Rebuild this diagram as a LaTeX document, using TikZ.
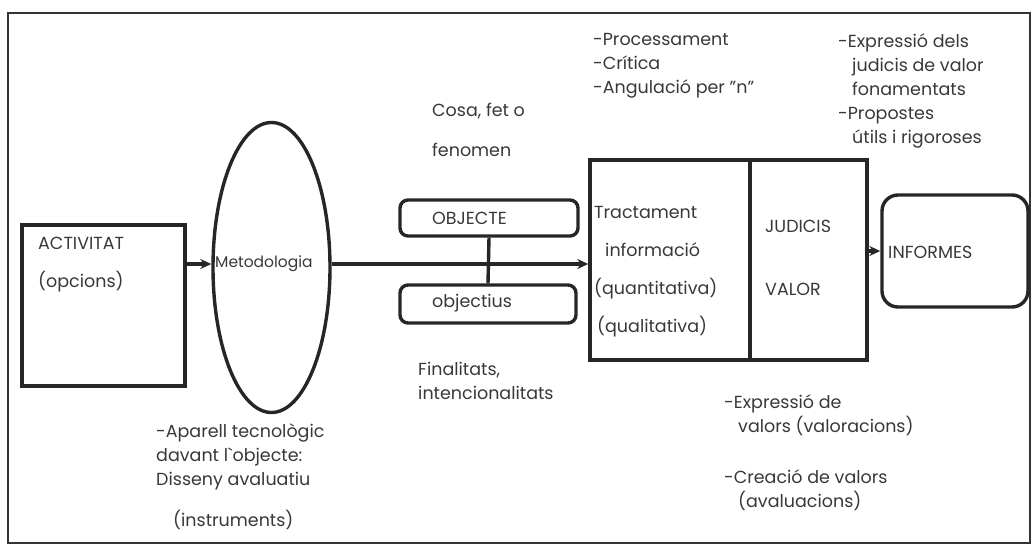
\documentclass[tikz,border=0pt]{standalone}
\usepackage{fontspec}
\setmainfont{Poppins}
\usetikzlibrary{shapes.geometric,arrows.meta}

\begin{document}
\begin{tikzpicture}[x=1pt,y=-1pt,
  caixa/.style={draw=black!85,line width=3.4pt,inner sep=0pt},
  arrodonida/.style={caixa,rounded corners=8pt},
  linia/.style={draw=black!85,line width=3.4pt},
  fletxa/.style={linia,-{Stealth[length=11pt,width=10pt]}},
  txt/.style={anchor=west,inner sep=0pt,text=black!78,align=left,
    font=\fontsize{17.5}{24}\selectfont}]
\useasboundingbox (0,0) rectangle (1036,545);
\draw[black!80,line width=2pt] (8,13) rectangle (1030,543);

% caixes
\node[caixa,minimum width=163pt,minimum height=161pt] (activ) at (103.5,305.5) {};
\node[caixa,ellipse,minimum width=117pt,minimum height=290pt] (metod) at (271.5,267.5) {};
\node[arrodonida,minimum width=178pt,minimum height=36pt] (objecte) at (489,218) {};
\node[arrodonida,minimum width=176pt,minimum height=38pt] (objectius) at (488,304) {};
\node[caixa,minimum width=160pt,minimum height=200pt] (tract) at (670,260) {};
\node[caixa,minimum width=117pt,minimum height=200pt] (judicis) at (808.5,260) {};
\node[arrodonida,rounded corners=16pt,minimum width=146pt,minimum height=112pt] (informes) at (955,251) {};

% textos de les caixes
\node[txt] (activtxt) at (38,243) {ACTIVITAT};
\node[txt] (opcions) at (38,282) {(opcions)};
\node[txt,font=\fontsize{15.5}{18}\selectfont] (metodtxt) at (215,264) {Metodologia};
\node[txt] (objtxt) at (432,218) {OBJECTE};
\node[txt] (objectiustxt) at (432,303) {objectius};
\node[txt] (tracttxt) at (594,272) {Tractament\\[14pt]\hspace*{11pt}informació\\[14pt](quantitativa)\\[14pt]\hspace*{3pt}(qualitativa)};
\node[txt] (judtxt) at (765,226) {JUDICIS};
\node[txt] (valortxt) at (765,289) {VALOR};
\node[txt] (informestxt) at (888,252) {INFORMES};

% connectors
\draw[fletxa] (activ.east |- metodtxt) -- (metod.west |- metodtxt);
\draw[fletxa] (metod.east |- metodtxt) -- (tract.west |- metodtxt);
\draw[linia] (objecte.south) -- (objectius.north);
\draw[fletxa] (judicis.east |- informes) -- (informes.west);

% anotacions
\node[txt] (cosa) at (432,130) {Cosa, fet o\\[16pt]fenomen};
\node[txt] (finalitats) at (418,381) {Finalitats,\\intencionalitats};
\node[txt] (process) at (593,66) {-Processament\\-Crítica\\-Angulació per "n"};
\node[txt] (expressio) at (838,91) {-Expressió dels\\\hspace*{14pt}judicis de valor\\\hspace*{14pt}fonamentats\\-Propostes\\\hspace*{14pt}útils i rigoroses};
\node[txt] (aparell) at (156,457) {-Aparell tecnològic\\davant l\textasciigrave objecte:\\Disseny avaluatiu};
\node[txt] (instruments) at (173,520) {(instruments)};
\node[txt] (valors) at (724,415) {-Expressió de\\\hspace*{14pt}valors (valoracions)};
\node[txt] (creacio) at (724,490) {-Creació de valors\\\hspace*{14pt}(avaluacions)};
\end{tikzpicture}
\end{document}
